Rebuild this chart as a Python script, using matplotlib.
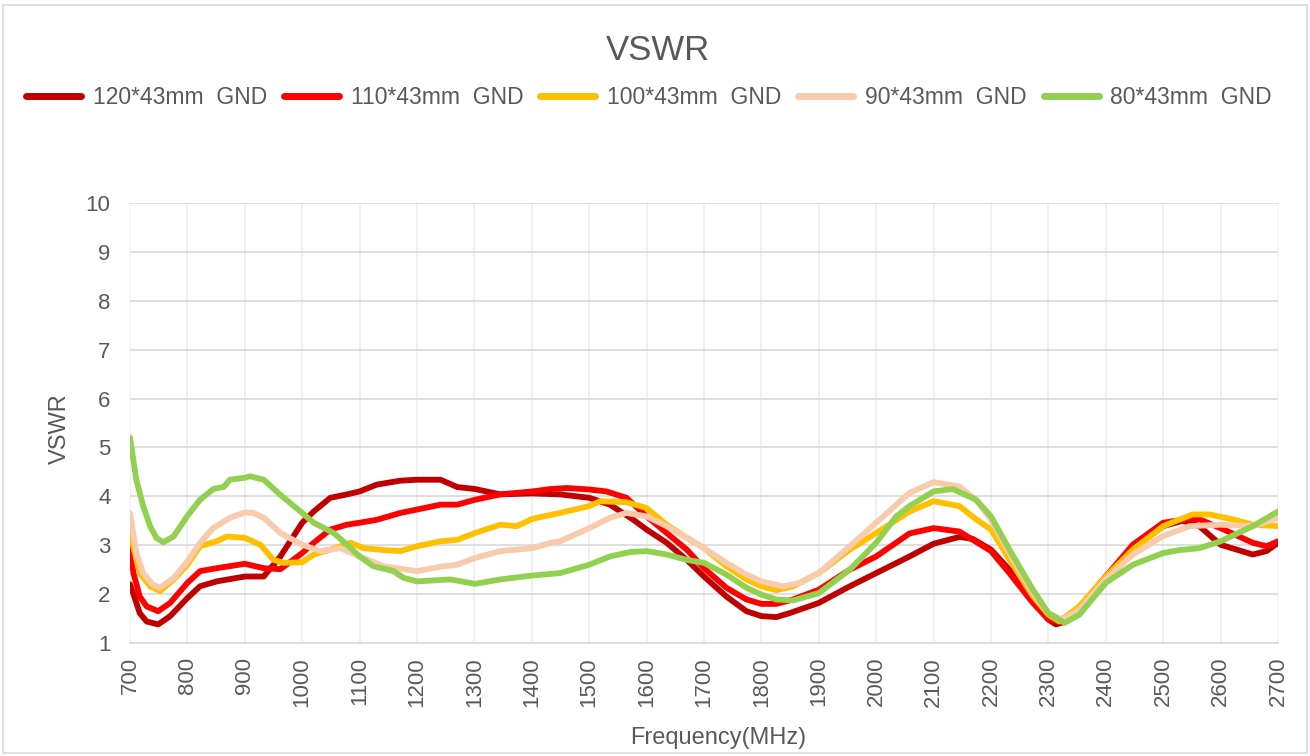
import matplotlib
matplotlib.use("Agg")
import matplotlib.pyplot as plt
from matplotlib.lines import Line2D

labels = ["120*43mm  GND", "110*43mm  GND", "100*43mm  GND", "90*43mm  GND", "80*43mm  GND"]
colors = ["#C00000", "#FF0000", "#FFC000", "#F8CBAD", "#92D050"]

f120 = [700,706,717,729,749,770,800,822,851,900,933,962,1000,1020,1049,1078,1100,1130,1171,1200,1241,1270,1301,1345,1400,1449,1500,1536,1577,1600,1635,1670,1700,1739,1774,1800,1826,1849,1900,1954,2000,2058,2100,2145,2168,2200,2232,2273,2300,2313,2331,2366,2400,2447,2500,2534,2563,2600,2656,2680,2700]
v120 = [2.2,2.0,1.61,1.44,1.38,1.55,1.92,2.16,2.26,2.36,2.36,2.77,3.46,3.69,3.97,4.04,4.1,4.24,4.32,4.34,4.34,4.19,4.15,4.04,4.06,4.04,3.97,3.83,3.52,3.32,3.05,2.7,2.36,1.95,1.65,1.55,1.53,1.61,1.82,2.16,2.43,2.77,3.03,3.17,3.13,2.91,2.5,1.89,1.48,1.38,1.44,1.89,2.36,2.94,3.39,3.5,3.39,3.01,2.81,2.88,3.05]

f110 = [700,706,717,729,749,770,800,822,851,900,933,962,1000,1020,1049,1078,1100,1130,1171,1200,1241,1270,1301,1345,1401,1433,1461,1500,1530,1565,1600,1635,1670,1700,1739,1774,1800,1826,1855,1900,1954,2000,2058,2100,2145,2200,2232,2273,2300,2319,2348,2400,2447,2500,2540,2563,2600,2656,2680,2700]
v110 = [2.94,2.43,1.95,1.75,1.65,1.82,2.23,2.47,2.53,2.62,2.53,2.51,2.84,3.05,3.32,3.42,3.46,3.52,3.66,3.73,3.83,3.83,3.93,4.04,4.1,4.15,4.17,4.14,4.1,3.97,3.59,3.25,2.91,2.53,2.13,1.89,1.8,1.8,1.89,2.09,2.5,2.77,3.24,3.35,3.28,2.88,2.43,1.82,1.48,1.44,1.65,2.36,3.01,3.46,3.53,3.53,3.35,3.05,2.98,3.08]

f100 = [700,717,735,752,776,800,822,851,869,900,927,950,967,1000,1020,1049,1084,1107,1142,1171,1200,1241,1270,1301,1345,1374,1401,1449,1500,1519,1565,1600,1635,1670,1700,1739,1774,1800,1826,1855,1900,1954,2000,2058,2100,2145,2174,2200,2232,2273,2300,2319,2354,2400,2447,2500,2551,2580,2621,2656,2700]
v100 = [3.25,2.43,2.16,2.06,2.3,2.6,2.98,3.08,3.18,3.15,3.01,2.7,2.64,2.65,2.81,2.91,3.05,2.94,2.9,2.88,2.98,3.08,3.11,3.25,3.42,3.39,3.54,3.66,3.8,3.9,3.88,3.76,3.42,3.15,2.94,2.57,2.3,2.16,2.08,2.16,2.43,2.91,3.25,3.69,3.9,3.8,3.53,3.32,2.71,1.96,1.58,1.44,1.75,2.36,2.91,3.39,3.63,3.63,3.53,3.42,3.39]

f90 = [700,711,723,740,752,776,800,822,845,874,900,915,933,962,1000,1031,1066,1100,1142,1200,1241,1270,1301,1345,1401,1433,1449,1500,1536,1565,1600,1635,1670,1700,1739,1774,1800,1838,1867,1900,1954,2000,2058,2100,2145,2174,2200,2232,2273,2300,2325,2354,2400,2447,2500,2546,2600,2656,2700]
v90 = [3.66,2.84,2.43,2.19,2.13,2.33,2.67,3.05,3.35,3.56,3.67,3.66,3.56,3.25,3.01,2.88,2.94,2.77,2.57,2.47,2.56,2.6,2.74,2.88,2.94,3.05,3.08,3.35,3.56,3.66,3.59,3.39,3.15,2.94,2.64,2.4,2.26,2.16,2.23,2.43,2.98,3.46,4.07,4.29,4.2,3.93,3.52,2.84,2.02,1.61,1.48,1.68,2.3,2.81,3.19,3.39,3.42,3.39,3.56]

f80 = [700,711,723,735,746,758,776,800,822,845,863,874,900,909,933,962,1000,1020,1055,1078,1100,1124,1159,1177,1200,1258,1301,1345,1400,1449,1500,1536,1571,1600,1635,1670,1700,1739,1774,1800,1826,1855,1900,1954,2000,2035,2058,2100,2133,2174,2200,2232,2273,2300,2328,2354,2400,2447,2500,2528,2563,2600,2656,2700]
v80 = [5.2,4.34,3.8,3.39,3.15,3.06,3.18,3.6,3.93,4.15,4.19,4.34,4.38,4.41,4.34,4.03,3.66,3.46,3.25,3.01,2.77,2.57,2.47,2.33,2.26,2.3,2.21,2.3,2.38,2.43,2.6,2.77,2.86,2.88,2.81,2.7,2.64,2.4,2.13,1.99,1.89,1.87,2.02,2.5,3.05,3.59,3.8,4.1,4.15,3.93,3.59,2.91,2.09,1.61,1.41,1.58,2.23,2.6,2.84,2.9,2.94,3.08,3.39,3.69]

series = [(f120, v120), (f110, v110), (f100, v100), (f90, v90), (f80, v80)]

xticks = list(range(700, 2701, 100))
yticks = list(range(1, 11))

plt.rcParams['font.family'] = ['Liberation Sans', 'DejaVu Sans']
txt = "#595959"
W, H = 1310, 756

fig = plt.figure(figsize=(W/100, H/100), dpi=100)
fig.patches.append(plt.Rectangle((3/W, 3/H), 1-6/W, 1-8/H, transform=fig.transFigure,
                                 fill=False, edgecolor="#D9D9D9", linewidth=1.2))
ax = fig.add_axes([130/W, 1-643/H, (1278-130)/W, (643-203)/H])

for (fx, vy), c, lab in zip(series, colors, labels):
    ax.plot(fx, vy, color=c, linewidth=4.2, solid_joinstyle='round', solid_capstyle='round', label=lab, zorder=3)

ax.set_xlim(700, 2700)
ax.set_ylim(1, 10)
ax.set_xticks(xticks)
ax.set_yticks(yticks)
ax.set_xticklabels([str(t) for t in xticks], rotation=90)
ax.tick_params(axis='both', length=0, labelsize=16, colors=txt)
ax.tick_params(axis='x', pad=10)
ax.tick_params(axis='y', pad=14)
ax.yaxis.grid(True, color="#D9D9D9", linewidth=1.2)
ax.xaxis.grid(True, color="#EDEDED", linewidth=1.2)
ax.set_axisbelow(True)
for s in ['top', 'right', 'left']:
    ax.spines[s].set_visible(False)
ax.spines['bottom'].set_color("#D9D9D9")
ax.spines['bottom'].set_linewidth(1.2)

fig.text(718/W, 1-738/H, "Frequency(MHz)", ha='center', va='center', fontsize=17, color=txt)
fig.text(60/W, 1-429/H, "VSWR", ha='center', va='center', fontsize=17, color=txt, rotation=90)
fig.text(658/W, 1-50/H, "VSWR", ha='center', va='center', fontsize=25, color=txt)

handles = [Line2D([0], [0], color=c, linewidth=5, solid_capstyle='round') for c in colors]
fig.legend(handles, labels, loc='center', bbox_to_anchor=(649/W, 1-98/H), ncol=5, frameon=False,
           fontsize=16.5, labelcolor=txt, handlelength=2.4, handletextpad=0.5, columnspacing=0.75,
           borderaxespad=0, borderpad=0)

fig.savefig("out.png", dpi=100)
